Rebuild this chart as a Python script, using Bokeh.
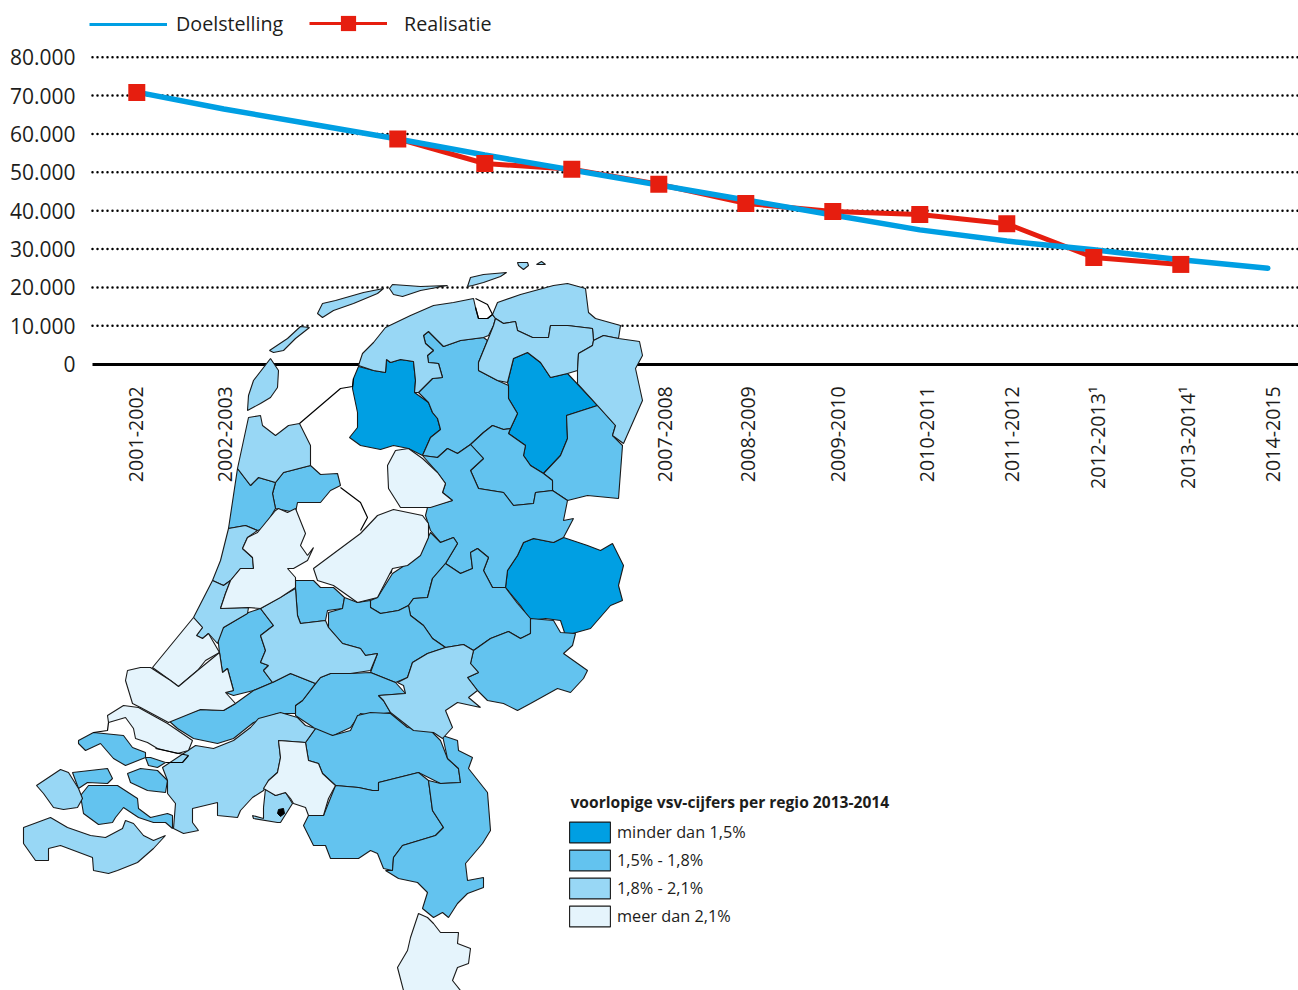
from bokeh.plotting import figure
from bokeh.models import Range1d, FixedTicker, Legend, LegendItem, ColumnDataSource
from bokeh.core.properties import value
from bokeh.embed import file_html
from bokeh.resources import INLINE
import math

years = ["2001-2002","2002-2003","2003-2004","2004-2005","2005-2006","2006-2007","2007-2008","2008-2009",
         "2009-2010","2010-2011","2011-2012","2012-2013¹","2013-2014¹","2014-2015"]
hidden_by_map = ["2003-2004","2004-2005","2005-2006","2006-2007"]
doelstelling = [70900,66500,62600,58700,54500,50600,46700,42800,38900,35000,32100,29800,27200,25000]
realisatie_first = [70800]
realisatie_idx = [3,4,5,6,7,8,9,10,11,12]
realisatie = [58700,52300,50800,46900,41900,39800,39000,36600,27800,26000]
y_ticks = [0,10000,20000,30000,40000,50000,60000,70000,80000]
y_labels = ["0","10.000","20.000","30.000","40.000","50.000","60.000","70.000","80.000"]
legend_classes = ["minder dan 1,5%","1,5% - 1,8%","1,8% - 2,1%","meer dan 2,1%"]
legend_title = "voorlopige vsv-cijfers per regio 2013-2014"
colors = ["#009FE3","#63C3EF","#98D7F5","#E5F4FC"]

c1 = [
 [(358,366),(373,370),(385,372),(386,359),(390,362),(400,359),(413,361),(415,380),(414,392),(428,402),(432,412),(437,418),(440,429),(430,437),(422,455),(408,448),(393,445),(380,449),(360,445),(349,437),(357,427),(357,412),(352,388),(353,378)],
 [(507,382),(513,358),(527,352),(540,362),(550,377),(567,373),(597,405),(566,415),(567,438),(560,455),(543,473),(530,465),(523,455),(525,445),(508,433),(510,428),(517,413),(508,398),(508,385)],
 [(505,587),(507,570),(517,555),(523,542),(533,538),(553,542),(563,537),(587,545),(600,550),(612,543),(623,565),(618,585),(622,600),(610,605),(590,628),(565,635),(560,620),(545,618),(530,620),(520,605)],
]
c2 = [
 [(418,392),(432,378),(442,377),(438,363),(428,362),(427,355),(433,350),(425,343),(423,335),(428,331),(437,340),(443,346),(460,340),(483,337),(487,340),(478,362),(478,370),(497,380),(508,385),(508,398),(517,413),(510,428),(503,429),(492,425),(483,432),(470,444),(457,453),(447,448),(437,457),(422,455),(430,437),(440,429),(437,418),(432,412),(428,402)],
 [(597,405),(615,425),(612,435),(622,445),(618,498),(587,495),(567,500),(552,490),(552,480),(543,473),(560,455),(567,438),(566,415)],
 [(470,444),(483,458),(470,470),(478,488),(503,492),(513,505),(533,503),(535,492),(552,490),(552,480),(543,473),(530,465),(523,455),(525,445),(508,433),(510,428),(503,429),(492,425),(483,432)],
 [(422,455),(437,457),(447,448),(457,453),(470,444),(483,458),(470,470),(478,488),(503,492),(513,505),(533,503),(535,492),(552,490),(567,500),(563,520),(573,518),(563,537),(553,542),(533,538),(523,542),(517,555),(507,570),(505,587),(492,587),(483,570),(488,557),(477,548),(470,552),(472,568),(460,573),(445,563),(457,543),(453,537),(440,542),(430,530),(425,515),(427,507),(452,500),(442,492),(445,483),(437,472)],
 [(342,567),(362,552),(377,566),(392,560),(391,572),(380,580),(380,592),(377,597),(357,602),(345,587),(352,585)],
 [(283,472),(310,465),(320,474),(337,473),(340,485),(330,490),(320,502),(297,502),(295,512),(275,508),(272,493),(275,482)],
 [(237,468),(250,485),(258,477),(275,482),(272,493),(275,508),(263,528),(257,530),(245,525),(228,528)],
 [(217,635),(223,627),(248,612),(260,608),(273,625),(260,635),(265,650),(260,662),(268,665),(263,670),(272,682),(253,690),(233,695),(225,692),(233,690),(227,668),(222,672),(219,652)],
 [(295,588),(295,580),(313,580),(320,587),(333,587),(344,597),(342,608),(327,610),(325,620),(300,623),(297,615)],
 [(370,600),(377,597),(392,573),(407,563),(422,548),(430,532),(440,542),(453,537),(457,543),(445,563),(432,578),(427,597),(413,598),(408,605),(398,610),(380,613),(370,607)],
 [(408,605),(413,598),(427,597),(432,578),(445,563),(460,573),(472,568),(470,552),(477,548),(488,557),(483,570),(492,587),(505,587),(517,603),(530,618),(530,633),(520,638),(508,631),(490,638),(473,650),(463,644),(445,647),(432,638),(423,625),(410,615)],
 [(328,612),(342,608),(344,597),(357,602),(370,600),(370,607),(380,613),(398,610),(408,605),(410,615),(423,625),(432,638),(445,647),(427,653),(412,662),(407,677),(395,682),(370,672),(377,653),(365,655),(360,648),(342,643),(328,627)],
 [(473,650),(490,638),(508,631),(520,638),(530,633),(530,618),(553,620),(560,632),(575,633),(572,645),(563,653),(587,670),(583,678),(570,692),(557,688),(530,703),(517,710),(503,703),(487,700),(477,690),(467,677),(478,672),(470,663)],
 [(320,677),(330,673),(350,673),(370,672),(395,682),(405,693),(378,695),(383,700),(390,712),(370,715),(360,713),(350,727),(333,735),(317,733),(313,727),(295,715),(295,705),(302,700)],
 [(168,720),(200,709),(223,710),(235,703),(253,690),(272,682),(290,673),(300,677),(315,683),(302,700),(295,705),(295,713),(277,713),(253,722),(233,738),(217,743),(193,738),(177,728)],
 [(305,742),(315,728),(332,735),(350,730),(357,715),(370,712),(390,713),(407,727),(430,730),(440,740),(447,758),(458,768),(460,782),(440,783),(418,772),(398,777),(378,782),(378,790),(372,790),(358,787),(335,785),(322,773),(318,763),(308,760)],
 [(335,785),(358,787),(372,790),(378,790),(378,782),(398,777),(418,772),(428,780),(432,810),(443,827),(435,835),(402,845),(393,857),(392,870),(383,868),(377,853),(370,850),(358,858),(330,858),(325,845),(313,845),(303,825),(308,815),(323,815)],
 [(442,735),(457,740),(458,750),(472,757),(468,768),(487,792),(490,830),(482,843),(465,863),(467,880),(483,877),(483,887),(467,893),(457,903),(448,917),(442,912),(433,917),(422,908),(427,892),(417,882),(398,878),(385,870),(392,870),(393,857),(402,845),(435,835),(443,827),(432,810),(428,780),(440,783),(460,782),(458,768),(447,758)],
 [(72,772),(107,768),(112,778),(107,783),(87,782),(78,788)],
 [(80,795),(88,785),(117,785),(137,798),(138,808),(150,817),(167,813),(172,815),(172,828),(165,822),(153,822),(138,817),(123,807),(115,817),(112,822),(98,824),(83,813)],
 [(78,740),(93,732),(123,735),(132,747),(145,752),(145,757),(125,765),(113,758),(100,743),(85,750),(78,743)],
 [(127,773),(140,768),(157,770),(167,780),(165,792),(147,790),(130,782)],
 [(145,757),(150,757),(165,762),(157,767),(148,765)],
]
c3 = [
 [(247,410),(248,395),(253,380),(270,358),(278,370),(277,387),(270,397),(260,403)],
 [(269,350),(287,338),(300,326),(309,327),(295,338),(283,350),(273,352)],
 [(317,313),(322,303),(335,300),(363,292),(383,288),(377,293),(353,303),(333,310),(322,317)],
 [(389,288),(392,284),(420,286),(447,285),(420,290),(402,296),(393,294)],
 [(467,286),(470,277),(483,274),(506,272),(500,276),(483,282),(472,285)],
 [(517,262),(527,262),(528,265),(523,269),(518,265)],
 [(536,264),(541,261),(545,264)],
 [(358,365),(362,353),(373,342),(385,327),(410,315),(433,305),(453,302),(473,298),(475,307),(478,318),(487,318),(492,314),(495,318),(493,325),(488,335),(483,337),(460,340),(443,346),(437,340),(428,331),(423,335),(425,343),(433,350),(427,355),(428,362),(438,363),(442,377),(432,378),(418,392),(414,392),(415,380),(413,361),(400,359),(390,362),(386,359),(385,372),(373,370)],
 [(497,302),(520,294),(553,285),(567,283),(585,288),(588,312),(595,318),(620,325),(618,338),(603,335),(593,340),(592,328),(567,325),(550,325),(548,337),(532,337),(517,330),(515,321),(503,323),(495,318),(492,314)],
 [(495,318),(503,323),(515,321),(517,330),(532,337),(548,337),(550,325),(567,325),(592,328),(593,340),(592,345),(578,353),(577,370),(567,373),(550,377),(540,362),(527,352),(513,358),(507,382),(497,380),(478,370),(478,362),(487,340),(493,325)],
 [(593,340),(603,335),(618,338),(639,341),(642,355),(635,368),(642,400),(623,443),(612,435),(615,425),(597,405),(577,383),(577,370),(578,353),(592,345)],
 [(237,468),(248,417),(260,415),(262,425),(275,435),(288,425),(299,423),(310,445),(310,465),(283,472),(275,482),(258,477),(250,485)],
 [(228,528),(245,525),(257,530),(247,537),(242,548),(252,557),(253,568),(240,568),(230,580),(223,585),(212,580),(220,560)],
 [(212,580),(223,585),(230,580),(225,593),(220,608),(248,607),(247,613),(223,627),(217,643),(208,633),(202,638),(196,635),(202,627),(193,617)],
 [(260,608),(295,588),(297,615),(300,623),(325,620),(328,627),(342,643),(360,648),(365,655),(377,653),(370,670),(350,673),(330,673),(320,677),(315,683),(300,677),(290,673),(272,682),(263,670),(268,665),(260,662),(265,650),(260,635),(273,625)],
 [(412,662),(427,653),(445,647),(463,644),(473,650),(470,663),(478,672),(467,677),(477,690),(468,697),(480,707),(457,702),(445,710),(452,727),(442,738),(433,732),(413,730),(390,712),(383,700),(378,695),(405,693),(403,685),(397,682),(407,677)],
 [(162,767),(195,745),(213,748),(233,740),(250,727),(258,718),(280,712),(297,717),(305,725),(315,728),(305,742),(278,740),(280,757),(277,772),(268,780),(263,790),(252,797),(240,810),(237,817),(217,815),(217,802),(192,808),(192,822),(198,830),(183,833),(173,828),(175,803),(167,793),(167,780)],
 [(252,815),(263,818),(263,807),(265,788),(275,795),(285,792),(292,803),(280,822),(277,822),(253,818)],
 [(36,785),(60,769),(68,772),(78,788),(82,798),(77,807),(63,809),(53,807),(43,793)],
 [(23,827),(50,817),(67,827),(90,835),(105,837),(122,828),(125,820),(133,823),(143,835),(153,840),(165,835),(153,848),(137,862),(117,870),(108,873),(93,870),(92,857),(60,845),(48,848),(48,860),(35,860),(23,843)],
]
c4 = [
 [(387,465),(395,450),(408,448),(422,458),(437,472),(445,483),(442,492),(452,500),(430,507),(400,507),(388,488)],
 [(313,568),(360,533),(377,515),(393,509),(422,515),(428,523),(428,537),(420,555),(407,565),(392,568),(377,597),(357,602),(333,585),(317,580)],
 [(257,532),(275,510),(278,508),(287,512),(295,508),(305,533),(300,545),(307,555),(313,547),(307,560),(293,568),(287,568),(295,577),(295,587),(280,597),(260,608),(248,607),(220,608),(225,593),(230,580),(240,568),(253,568),(252,557),(242,548),(247,537)],
 [(193,617),(202,627),(196,635),(202,638),(208,633),(219,652),(205,660),(197,670),(178,686),(170,680),(152,667)],
 [(150,667),(170,680),(178,686),(197,670),(219,652),(222,672),(227,668),(233,690),(225,692),(235,703),(223,710),(200,709),(168,722),(140,707),(132,703),(125,680),(127,670),(140,667)],
 [(278,740),(305,742),(308,760),(318,763),(322,773),(335,785),(328,798),(323,815),(308,815),(305,807),(293,803),(290,798),(285,792),(275,795),(263,788),(268,780),(277,772),(280,757)],
 [(418,913),(427,917),(433,923),(440,932),(458,932),(457,943),(470,948),(468,963),(457,967),(452,980),(460,990),(403,990),(397,967),(407,950),(410,937)],
 [(107,715),(123,705),(138,707),(167,723),(192,740),(188,750),(177,753),(157,748),(147,742),(135,738),(133,728),(125,717),(108,722)],
]
specks = [[(278,809),(283,808),(284,813),(280,816),(277,813)]]
water_lines = [
 [(299,423),(340,388),(352,386),(353,378)],
 [(340,487),(360,502),(367,517),(360,530)],
 [(108,722),(107,730),(93,732)],
 [(155,748),(188,755),(182,762),(165,762)],
 [(475,307),(478,318),(487,318),(492,314),(487,304),(475,298)],
]

W, H = 1298, 990
PX_IDX0, PX_STEP, PX_Y0, PX_PER = 136.3, 87, 363.7, 38.375/10000
PX_L, PX_R, PX_T, PX_B = 0, 1298, 0, 990
xr = Range1d((PX_L-PX_IDX0)/PX_STEP, (PX_R-PX_IDX0)/PX_STEP)
yr = Range1d((PX_Y0-PX_B)/PX_PER, (PX_Y0-PX_T)/PX_PER)
p = figure(width=W, height=H, x_range=xr, y_range=yr, output_backend="svg", toolbar_location=None,
           min_border=0, outline_line_color=None, background_fill_color="white")
p.grid.visible = False
p.extra_x_ranges["map"] = Range1d(PX_L, PX_R)
p.extra_y_ranges["map"] = Range1d(PX_B, PX_T)

x_left = (92-PX_IDX0)/PX_STEP
x_right = (PX_R-PX_IDX0)/PX_STEP
FONT = "Open Sans"
INK = "#1D1D1B"

ya = p.yaxis[0]
ya.fixed_location = x_left
ya.ticker = FixedTicker(ticks=y_ticks)
ya.major_label_overrides = dict(zip(y_ticks, y_labels))
ya.axis_line_color = None
ya.major_tick_line_color = None
ya.minor_tick_line_color = None
ya.major_label_standoff = 11
ya.major_label_text_font = FONT
ya.major_label_text_font_size = "21px"
ya.major_label_text_color = INK

xa = p.xaxis[0]
xa.fixed_location = 0
vis = [i for i, y in enumerate(years) if y not in hidden_by_map]
label_nudge_px = [-1.3, 0.7, 5.7, 1.7, 4.7, 6.7, 4.7, 3.7, 6.7, 4.7]
tick_pos = [i + n/PX_STEP for i, n in zip(vis, label_nudge_px)]
xa.ticker = FixedTicker(ticks=tick_pos)
xa.major_label_overrides = {t: years[i] for t, i in zip(tick_pos, vis)}
xa.bounds = (x_left, x_right)
xa.axis_line_color = "black"
xa.axis_line_width = 3
xa.major_tick_line_color = None
xa.minor_tick_line_color = None
xa.major_label_orientation = math.pi/2
xa.major_label_standoff = 16
xa.major_label_text_font = FONT
xa.major_label_text_font_size = "19.6px"
xa.major_label_text_color = INK

gy = y_ticks[1:]
p.segment(x0=[x_left]*len(gy), x1=[x_right]*len(gy), y0=gy, y1=gy, line_color="black",
          line_width=2.5, line_dash="0 5", line_cap="round")

idx = list(range(len(years)))
p.line(realisatie_idx, realisatie, line_color="#E61E0F", line_width=5)
p.line(idx, doelstelling, line_color="#009FE3", line_width=5.5, line_cap="round")
p.scatter([0]+realisatie_idx, realisatie_first+realisatie, marker="square", size=17, fill_color="#E61E0F", line_color=None)

rs = []
for cl, col in zip([c1, c2, c3, c4], colors):
    src = ColumnDataSource(dict(xs=[[q[0] for q in r] for r in cl], ys=[[q[1] for q in r] for r in cl]))
    rs.append(p.patches("xs", "ys", source=src, fill_color=col, line_color="#1a1a1a", line_width=1.1,
                        x_range_name="map", y_range_name="map", level="overlay"))
p.patches([[q[0] for q in r] for r in specks], [[q[1] for q in r] for r in specks], fill_color="black", line_color="black",
          x_range_name="map", y_range_name="map", level="overlay")
p.multi_line([[q[0] for q in r] for r in water_lines], [[q[1] for q in r] for r in water_lines], line_color="black", line_width=1.2,
             x_range_name="map", y_range_name="map", level="overlay")

def mk(items, loc, **kw):
    l = Legend(items=items, location=loc, margin=0, padding=0, border_line_color=None,
               background_fill_color=None, label_text_font=FONT, label_text_color=INK, **kw)
    p.add_layout(l, "center")
    return l

nan = float("nan")
l_d = p.line([0], [nan], line_color="#009FE3", line_width=3)
l_r = p.line([0], [nan], line_color="#E61E0F", line_width=3)
l_s = p.scatter([0], [nan], marker="square", size=15, fill_color="#E61E0F", line_color=None)
mk([LegendItem(label="Doelstelling", renderers=[l_d])], (89, 953), glyph_width=78, glyph_height=20,
   label_standoff=9, label_text_font_size="19.7px")
mk([LegendItem(label="Realisatie", renderers=[l_r, l_s])], (309, 948), glyph_width=78, glyph_height=38,
   label_standoff=17, label_text_font_size="19.7px")
mk([LegendItem(label=n, renderers=[r], index=0) for n, r in zip(legend_classes, rs)], (564, 61),
   glyph_width=51, glyph_height=26, spacing=2, label_standoff=2, label_text_font_size="16.3px")
p.text([570], [801], text=[legend_title], text_font=value(FONT), text_font_style="bold", text_font_size="15.6px",
       text_color=INK, text_baseline="middle", x_range_name="map", y_range_name="map", level="overlay")

open("out.html", "w").write(file_html(p, INLINE))
